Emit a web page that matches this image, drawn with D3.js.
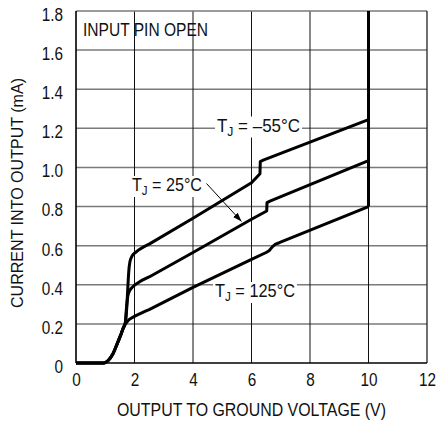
<!DOCTYPE html>
<html><head><meta charset="utf-8">
<script src="https://cdn.jsdelivr.net/npm/d3@7/dist/d3.min.js"></script>
<style>body{margin:0;background:#fff}svg{display:block}text{font-family:"Liberation Sans Narrow","Liberation Sans",Arial,sans-serif;fill:#111}</style>
</head><body><svg id="c" width="439" height="422"></svg>
<script>
const xTicks = [0, 2, 4, 6, 8, 10, 12];
const xTickLabels = ["0", "2", "4", "6", "8", "10", "12"];
const yTicks = [0, 0.2, 0.4, 0.6, 0.8, 1.0, 1.2, 1.4, 1.6, 1.8];
const yTickLabels = ["0", "0.2", "0.4", "0.6", "0.8", "1.0", "1.2", "1.4", "1.6", "1.8"];
const commonStart = [[0,0],[0.95,0],[1.1,0.013],[1.25,0.043],[1.4,0.095],[1.52,0.14],[1.62,0.18],[1.68,0.2]];
const kneeMinus55 = [[1.73,0.27],[1.77,0.38],[1.8,0.46],[1.84,0.515],[1.92,0.548],[2.05,0.567],[2.5,0.608]];
const tailMinus55 = [[2.5,0.608],[4,0.74],[6,0.922],[6.29,0.968],[6.3,1.03],[6.4,1.037],[10,1.245]];
const knee25 = [[1.73,0.29],[1.77,0.34],[1.83,0.368],[1.93,0.388],[2.1,0.408],[2.5,0.44]];
const tail25 = [[2.5,0.44],[4,0.565],[6,0.735],[6.52,0.777],[6.53,0.82],[6.63,0.828],[10,1.035]];
const knee125 = [[1.72,0.205],[1.8,0.22],[1.9,0.23],[2.1,0.246],[2.5,0.273]];
const tail125 = [[2.5,0.273],[4,0.387],[6,0.53],[6.5,0.565],[6.6,0.574],[6.72,0.595],[6.82,0.608],[6.95,0.615],[10,0.8]];
const clampLine = [[10,0.8],[10,1.8]];
const seriesLabels = ["–55°C", "25°C", "125°C"];

const svg = d3.select("#c");
const x = d3.scaleLinear().domain([0,12]).range([76,427]);
const y = d3.scaleLinear().domain([0,1.8]).range([363,11]);

function squeeze(sel, k){ sel.each(function(){ const w=this.getComputedTextLength(); d3.select(this).attr("textLength", w*k).attr("lengthAdjust","spacingAndGlyphs"); }); }

// grid
svg.append("g").selectAll("line").data(yTicks.slice(1,-1)).join("line")
  .attr("x1", x(0)).attr("x2", x(12)).attr("y1", d=>y(d)).attr("y2", d=>y(d))
  .attr("stroke", "#7a7a7a").attr("stroke-width", 1.5);
svg.append("g").selectAll("line").data(xTicks.slice(1,-1)).join("line")
  .attr("y1", y(0)).attr("y2", y(1.8)).attr("x1", d=>x(d)).attr("x2", d=>x(d))
  .attr("stroke", "#111").attr("stroke-width", 1);
// frame
svg.append("line").attr("x1",x(0)).attr("x2",x(12)).attr("y1",y(1.8)).attr("y2",y(1.8)).attr("stroke","#7a7a7a").attr("stroke-width",1.5);
svg.append("line").attr("x1",x(12)).attr("x2",x(12)).attr("y1",y(0)).attr("y2",y(1.8)).attr("stroke","#222").attr("stroke-width",1.3);
svg.append("line").attr("x1",x(0)).attr("x2",x(0)).attr("y1",y(0)).attr("y2",y(1.8)).attr("stroke","#000").attr("stroke-width",1.6);
svg.append("line").attr("x1",x(0)).attr("x2",x(12)).attr("y1",y(0)).attr("y2",y(0)).attr("stroke","#000").attr("stroke-width",1.6);

// axes labels
const xAxis = d3.axisBottom(x).tickValues(xTicks).tickSize(0).tickPadding(10).tickFormat((d,i)=>xTickLabels[i]);
const gx = svg.append("g").attr("transform", `translate(0,${y(0)})`).call(xAxis);
gx.select(".domain").remove();
gx.selectAll("text").style("font-size","18px").attr("fill","#111");
squeeze(gx.selectAll("text"), 0.85);
const yAxis = d3.axisLeft(y).tickValues(yTicks).tickSize(0).tickPadding(13).tickFormat((d,i)=>yTickLabels[i]);
const gy = svg.append("g").attr("transform", `translate(${x(0)},0)`).call(yAxis);
gy.select(".domain").remove();
gy.selectAll("text").style("font-size","18px").attr("fill","#111").attr("dy","0.52em");
squeeze(gy.selectAll("text"), 0.85);
svg.selectAll("g").attr("font-family", null);

svg.append("text").attr("x", 251.5).attr("y", 416).attr("text-anchor","middle")
  .style("font-size","18px").attr("textLength",269).attr("lengthAdjust","spacingAndGlyphs")
  .text("OUTPUT TO GROUND VOLTAGE (V)");
svg.append("text").attr("transform","translate(22.5,193) rotate(-90)").attr("text-anchor","middle")
  .style("font-size","17px").attr("textLength",230).attr("lengthAdjust","spacingAndGlyphs")
  .text("CURRENT INTO OUTPUT (mA)");

svg.append("text").attr("x",83).attr("y",36).style("font-size","17.5px")
  .attr("textLength",125).attr("lengthAdjust","spacingAndGlyphs").text("INPUT PIN OPEN");

// curves
const smooth = d3.line().x(d=>x(d[0])).y(d=>y(d[1])).curve(d3.curveMonotoneX);
const straight = d3.line().x(d=>x(d[0])).y(d=>y(d[1]));
[[kneeMinus55, tailMinus55], [knee25, tail25], [knee125, tail125]].forEach(([k, t])=>{
  svg.append("path").attr("d", smooth(commonStart.concat(k)) + straight(t).replace(/^M/, "L"))
    .attr("fill","none").attr("stroke","#000").attr("stroke-width",3).attr("stroke-linejoin","round");
});
svg.append("path").attr("d", straight(clampLine))
  .attr("fill","none").attr("stroke","#000").attr("stroke-width",3);

// labels with white background
function tjLabel(xp, yBase, val, w){
  const g = svg.append("g");
  const bg = g.append("rect").attr("fill","#fff");
  const t = g.append("text").attr("x",xp).attr("y",yBase).style("font-size","17.5px");
  t.append("tspan").text("T");
  t.append("tspan").text("J").style("font-size","12.5px").attr("dy",4);
  t.append("tspan").text(" = " + val).attr("dy",-4);
  t.attr("textLength", w).attr("lengthAdjust","spacingAndGlyphs");
  const b = t.node().getBBox();
  bg.attr("x", b.x-2).attr("y", b.y+1).attr("width", b.width+4).attr("height", b.height-2);
}
tjLabel(217, 131.5, seriesLabels[0], 83);
tjLabel(132, 191, seriesLabels[1], 70);
tjLabel(215, 297, seriesLabels[2], 80);

// arrow
svg.append("defs").append("marker").attr("id","ah").attr("viewBox","0 0 10 10")
  .attr("refX",10).attr("refY",5).attr("markerWidth",9).attr("markerHeight",9)
  .attr("markerUnits","userSpaceOnUse").attr("orient","auto")
  .append("path").attr("d","M0,1.5 L10,5 L0,8.5 Z").attr("fill","#000");
svg.append("line").attr("x1",206.5).attr("y1",183.5).attr("x2",241.5).attr("y2",221.5)
  .attr("stroke","#000").attr("stroke-width",1).attr("marker-end","url(#ah)");
</script></body></html>
